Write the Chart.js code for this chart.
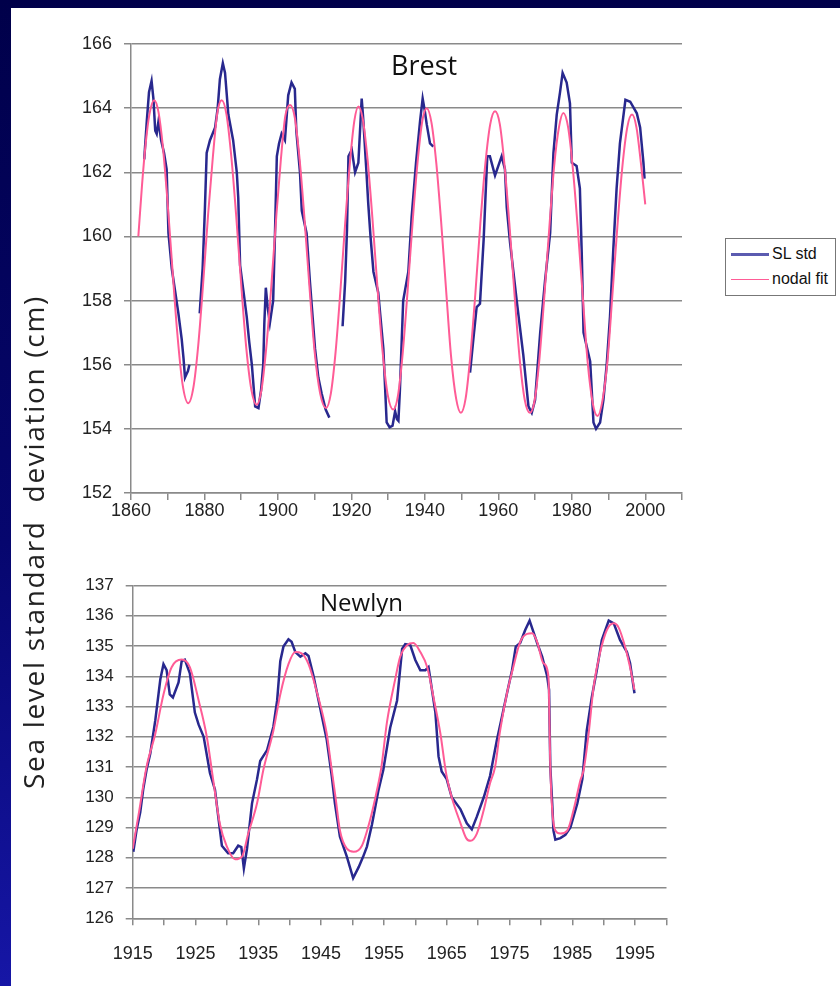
<!DOCTYPE html>
<html>
<head>
<meta charset="utf-8">
<script src="https://cdn.jsdelivr.net/npm/chart.js@4.4.1/dist/chart.umd.min.js"></script>
<style>
  html, body { margin: 0; padding: 0; }
  body {
    width: 840px; height: 986px; position: relative; overflow: hidden;
    background: linear-gradient(to bottom, #00004a 0%, #06066e 55%, #1616a6 100%);
  }
  #panel { position: absolute; left: 11px; top: 8px; right: 0; bottom: 0; background: #fff; }
  #topWrap { position: absolute; left: 0; top: 0; width: 840px; height: 540px; }
  #botWrap { position: absolute; left: 0; top: 545px; width: 840px; height: 441px; }
  .station {
    position: absolute; font-family: 'Open Sans', 'Noto Sans', sans-serif;
    font-size: 24px; color: #111; line-height: 1;
  }
  #yTitle {
    position: absolute; left: 33px; top: 542px; width: 600px;
    transform: translate(-50%, -50%) rotate(-90deg);
    text-align: center; white-space: pre; line-height: 1;
    font-family: 'Open Sans', 'Noto Sans', sans-serif; font-size: 28px; color: #222;
    letter-spacing: 1.7px;
  }
  #legend {
    position: absolute; left: 725px; top: 238px; width: 109px; height: 56px;
    border: 1.5px solid #777; background: #fff;
    font-family: 'Liberation Sans', Arial, sans-serif; font-size: 16px; color: #111;
  }
  #legend .row { position: absolute; left: 5px; height: 20px; line-height: 20px; white-space: nowrap; }
  #legend .swatch { display: inline-block; width: 38px; vertical-align: middle; margin-right: 3px; }
</style>
</head>
<body>
<div id="panel"></div>
<div id="topWrap"><canvas id="brestChart" width="840" height="540"></canvas></div>
<div id="botWrap"><canvas id="newlynChart" width="840" height="441"></canvas></div>
<div class="station" style="left:391px; top:51px; font-size:27px;">Brest</div>
<div class="station" style="left:320px; top:590px;">Newlyn</div>
<div id="yTitle">Sea level standard  deviation (cm)</div>
<div id="legend">
  <div class="row" style="top:5px;"><span class="swatch" style="border-top:3px solid #5b5bb0;"></span>SL std</div>
  <div class="row" style="top:30px;"><span class="swatch" style="border-top:1.5px solid #ff5c96;"></span>nodal fit</div>
</div>
<script>
// Brest: observed SL std (null = missing years)
const brestYears = [1863.6, 1864.3, 1864.9, 1865.6, 1866.1, 1866.6, 1867.0, 1867.5, 1868.2, 1869.0,
  1869.7, 1870.2, 1871.1, 1872.0, 1872.9, 1873.8, 1874.3, 1874.7, 1875.1, 1875.5, 1875.9, 1877.3,
  1878.7, 1879.5, 1880.1, 1880.6, 1881.5, 1882.9, 1883.6, 1884.2, 1885.0, 1885.6, 1886.5, 1887.8,
  1888.8, 1889.2, 1889.7, 1890.6, 1891.5, 1892.2, 1892.9, 1893.8, 1894.7, 1895.4, 1896.0, 1896.3,
  1896.7, 1897.2, 1897.8, 1898.7, 1899.2, 1899.7, 1900.3, 1901.0, 1901.9, 1902.8, 1903.7, 1904.6,
  1905.0, 1906.0, 1906.5, 1907.8, 1908.7, 1910.1, 1911.0, 1911.9, 1913.0, 1914.0, 1916.0,
  1917.6, 1918.3, 1918.8, 1919.2, 1920.1, 1921.0, 1921.9, 1922.8, 1923.2, 1924.1, 1924.6, 1925.2,
  1926.0, 1927.3, 1928.7, 1929.6, 1930.4, 1931.2, 1931.9, 1932.4, 1932.8, 1933.2, 1934.1, 1935.5,
  1936.4, 1937.6, 1938.7, 1939.4, 1940.0, 1940.5, 1941.4, 1942.3, 1947.0,
  1952.3, 1953.2, 1954.1, 1955.0, 1956.0, 1956.6, 1957.0, 1957.7, 1958.4, 1959.1, 1960.0, 1960.9,
  1961.8, 1962.3, 1963.2, 1965.0, 1966.8, 1968.2, 1969.1, 1970.0, 1971.4, 1972.7, 1974.1, 1975.0,
  1975.9, 1976.8, 1977.5, 1978.6, 1979.5, 1980.0, 1981.3, 1982.2, 1982.7, 1983.2, 1984.2, 1985.0,
  1985.9, 1986.6, 1987.7, 1988.6, 1989.5, 1990.4, 1991.3, 1992.2, 1993.1, 1994.6, 1995.9, 1997.7,
  1998.6, 1999.5, 1999.8];
const brestStd = [162.4, 163.6, 164.5, 164.85, 164.3, 163.3, 163.2, 163.6, 163.0, 162.6,
  162.1, 160.1, 159.0, 158.3, 157.6, 156.8, 156.2, 155.6, 155.7, 155.8, 156.0, null,
  157.6, 159.0, 160.8, 162.6, 163.0, 163.4, 164.0, 164.9, 165.4, 165.1, 163.8, 163.0,
  162.0, 161.2, 159.1, 158.3, 157.5, 156.7, 156.0, 154.7, 154.65, 155.2, 156.0, 157.3,
  158.4, 157.8, 157.3, 158.0, 160.1, 162.5, 162.9, 163.2, 163.0, 164.4, 164.8, 164.6,
  163.3, 162.0, 160.8, 160.1, 158.6, 156.5, 155.6, 155.1, 154.6, 154.35, null,
  157.2, 158.6, 160.2, 162.5, 162.7, 162.0, 162.3, 164.3, 163.7, 162.0, 161.0, 160.0,
  158.9, 158.25, 156.5, 154.2, 154.05, 154.1, 154.55, 154.3, 154.25, 155.2, 158.0, 158.9,
  160.6, 162.3, 163.6, 164.3, 163.9, 163.5, 162.9, 162.8, null,
  155.75, 156.8, 157.8, 157.9, 159.9, 161.5, 162.5, 162.5, 162.2, 161.9, 162.2, 162.5,
  162.1, 160.9, 159.8, 158.0, 156.3, 154.7, 154.5, 154.9, 157.0, 158.6, 160.1, 162.6,
  163.8, 164.5, 165.1, 164.8, 164.15, 162.3, 162.2, 161.5, 159.5, 157.0, 156.5, 156.1,
  154.2, 154.0, 154.2, 154.9, 156.0, 157.5, 159.6, 161.5, 162.9, 164.26, 164.2, 163.84,
  163.4, 162.3, 161.8];

// Brest: nodal fit
const brestFitYears = [1862.0, 1863.0, 1864.0, 1865.0, 1866.3, 1867.5, 1868.7, 1870.0, 1871.3, 1872.6,
  1874.0, 1875.6, 1877.0, 1878.3, 1879.6, 1881.0, 1882.3, 1883.5, 1884.7, 1886.0, 1887.3, 1888.6,
  1890.0, 1891.4, 1892.8, 1894.2, 1895.5, 1896.8, 1898.2, 1899.6, 1900.8, 1902.0, 1903.3, 1904.6,
  1905.9, 1907.2, 1908.6, 1910.0, 1911.5, 1913.1, 1914.4, 1915.7, 1917.0, 1918.3, 1919.6, 1920.8,
  1921.9, 1923.1, 1924.4, 1925.7, 1927.1, 1928.5, 1929.9, 1931.4, 1932.7, 1934.0, 1935.3, 1936.7,
  1938.0, 1939.3, 1940.5, 1941.8, 1943.1, 1944.4, 1945.8, 1947.1, 1948.5, 1949.8, 1951.1, 1952.4,
  1953.8, 1955.1, 1956.5, 1957.8, 1959.1, 1960.4, 1961.7, 1963.0, 1964.4, 1965.8, 1967.2, 1968.6,
  1969.9, 1971.2, 1972.5, 1973.9, 1975.2, 1976.5, 1977.7, 1979.0, 1980.3, 1981.6, 1983.0, 1984.3,
  1985.7, 1987.0, 1988.3, 1989.7, 1991.0, 1992.4, 1993.7, 1995.1, 1996.4, 1997.6, 1998.8, 2000.0];
const brestFit = [160.0, 161.6, 162.9, 163.8, 164.25, 163.87, 162.77, 161.0, 158.94, 156.99,
  155.42, 154.8, 155.3, 156.6, 158.47, 160.7, 162.5, 163.85, 164.25, 163.8, 162.5, 160.7,
  158.5, 156.5, 155.2, 154.75, 155.2, 156.5, 158.45, 160.7, 162.4, 163.75, 164.1, 163.7,
  162.4, 160.6, 158.4, 156.4, 155.1, 154.65, 155.1, 156.4, 158.3, 160.4, 162.3, 163.6,
  164.05, 163.65, 162.4, 160.6, 158.4, 156.4, 155.05, 154.6, 155.05, 156.4, 158.3, 160.5,
  162.3, 163.6, 164.0, 163.55, 162.3, 160.5, 158.3, 156.3, 154.95, 154.5, 154.95, 156.3,
  158.3, 160.4, 162.3, 163.5, 163.9, 163.5, 162.2, 160.4, 158.2, 156.2, 154.9, 154.5,
  154.9, 156.2, 158.1, 160.3, 162.2, 163.4, 163.85, 163.4, 162.1, 160.3, 158.1, 156.1,
  154.8, 154.4, 154.85, 156.1, 158.1, 160.3, 162.1, 163.4, 163.8, 163.4, 162.3, 161.0];

// Newlyn: observed SL std
const newlynYears = [1915.1, 1915.6, 1916.2, 1916.7, 1917.2, 1917.8, 1918.6, 1919.4, 1919.9, 1920.4,
  1920.9, 1921.4, 1922.3, 1922.8, 1923.3, 1924.1, 1924.9, 1925.5, 1926.3, 1927.3, 1928.1, 1928.6,
  1929.2, 1930.2, 1931.0, 1931.8, 1932.3, 1932.7, 1933.2, 1934.0, 1934.8, 1935.3, 1936.4, 1937.4,
  1938.0, 1938.5, 1939.0, 1939.8, 1940.3, 1940.9, 1941.7, 1942.5, 1943.0, 1943.8, 1944.8, 1945.9,
  1946.7, 1947.2, 1948.0, 1949.1, 1950.1, 1951.0, 1951.7, 1952.3, 1953.1, 1954.1, 1954.9, 1956.0,
  1957.1, 1957.9, 1958.4, 1959.2, 1960.0, 1960.8, 1961.6, 1962.1, 1962.4, 1963.2, 1963.7, 1964.2,
  1965.0, 1965.8, 1967.2, 1968.2, 1969.0, 1969.8, 1970.9, 1971.9, 1973.0, 1973.8, 1974.6, 1975.4,
  1976.0, 1976.7, 1977.5, 1978.2, 1978.7, 1979.4, 1980.2, 1981.0, 1981.3, 1981.5, 1981.8, 1982.0,
  1982.3, 1983.1, 1983.9, 1984.7, 1985.8, 1986.6, 1987.3, 1988.1, 1988.9, 1989.7, 1990.8, 1991.6,
  1992.6, 1993.7, 1994.2, 1994.9];
const newlynStd = [128.2, 128.9, 129.5, 130.3, 130.9, 131.45, 132.55, 133.9, 134.4, 134.2,
  133.4, 133.3, 133.8, 134.5, 134.55, 134.1, 132.8, 132.4, 132.0, 130.8, 130.25, 129.4,
  128.4, 128.15, 128.15, 128.4, 128.35, 127.65, 128.3, 129.8, 130.6, 131.2, 131.56, 132.33,
  133.2, 134.5, 134.98, 135.22, 135.14, 134.8, 134.65, 134.76, 134.67, 134.0, 133.0, 131.9,
  130.7, 129.8, 128.7, 128.04, 127.33, 127.7, 128.04, 128.37, 129.1, 130.2, 130.9, 132.3,
  133.2, 134.9, 135.06, 135.03, 134.54, 134.2, 134.2, 134.3, 133.9, 132.8, 131.35, 130.85,
  130.6, 130.0, 129.6, 129.14, 128.94, 129.36, 130.0, 130.7, 131.9, 132.66, 133.44, 134.2,
  134.98, 135.1, 135.53, 135.84, 135.53, 135.1, 134.65, 134.0, 133.55, 131.0, 129.8, 128.9,
  128.6, 128.65, 128.76, 129.0, 129.8, 130.6, 132.2, 133.3, 134.2, 135.2, 135.84, 135.75,
  135.2, 134.8, 134.43, 133.44];

// Newlyn: nodal fit
const newlynFitYears = [1915.0, 1916.0, 1917.2, 1918.6, 1919.9, 1921.2, 1922.8, 1924.1, 1925.5, 1926.8,
  1927.8, 1928.9, 1930.0, 1931.3, 1932.4, 1933.4, 1934.8, 1935.8, 1937.4, 1938.5, 1939.8, 1940.9,
  1941.9, 1943.0, 1944.3, 1945.9, 1946.5, 1947.3, 1948.0, 1949.1, 1950.2, 1951.5, 1952.8, 1953.9,
  1954.6, 1955.5, 1956.8, 1957.6, 1958.7, 1959.7, 1960.8, 1961.9, 1962.9, 1964.0, 1964.9, 1965.8,
  1967.2, 1968.1, 1968.8, 1969.8, 1970.9, 1971.9, 1972.7, 1973.5, 1974.6, 1975.6, 1976.7, 1977.8,
  1978.6, 1979.4, 1980.4, 1981.2, 1981.5, 1981.8, 1982.3, 1983.1, 1984.2, 1985.2, 1986.3, 1986.8,
  1987.6, 1988.4, 1989.4, 1990.5, 1991.6, 1992.4, 1993.4, 1994.2, 1994.9];
const newlynFit = [128.3, 129.5, 131.0, 132.1, 133.4, 134.3, 134.55, 134.3, 133.2, 132.0,
  130.6, 129.1, 128.37, 127.95, 128.04, 128.8, 129.8, 130.9, 132.2, 133.4, 134.4, 134.8,
  134.76, 134.4, 133.5, 132.1, 131.2, 130.0, 128.9, 128.3, 128.2, 128.4, 129.25, 130.24,
  131.0, 132.5, 133.9, 134.65, 135.03, 135.1, 134.8, 134.3, 133.3, 132.1, 130.8, 130.0,
  129.14, 128.65, 128.56, 128.8, 129.58, 130.46, 131.0, 132.2, 133.44, 134.3, 135.14, 135.4,
  135.42, 135.14, 134.43, 134.0, 131.0, 129.58, 128.9, 128.8, 128.9, 129.58, 130.57, 130.9,
  132.1, 133.66, 134.76, 135.53, 135.75, 135.6, 134.98, 134.3, 133.55];

const brestTicks = {min: 152, max: 166, step: 2};
const newlynTicks = {min: 126, max: 137, step: 1};
const brestXTicks = {min: 1860, max: 2010, step: 10, labelEvery: 20};
const newlynXTicks = {min: 1915, max: 2000, step: 5, labelEvery: 10};

const stdColor = '#28288e';
const fitColor = '#ff5c96';
const gridColor = '#8a8a8a';
const tickFont = {family: "'Liberation Sans', Arial, sans-serif", size: 17};

function pairs(xs, ys) {
  return xs.map((x, i) => ({x: x, y: ys[i]}));
}

function makeChart(id, obs, fit, yt, xt, box) {
  const ctx = document.getElementById(id).getContext('2d');
  return new Chart(ctx, {
    type: 'line',
    data: {
      datasets: [
        {label: 'SL std', data: obs, borderColor: stdColor, borderWidth: 2.5,
         pointRadius: 0, tension: 0, spanGaps: false, order: 2},
        {label: 'nodal fit', data: fit, borderColor: fitColor, borderWidth: 2,
         pointRadius: 0, cubicInterpolationMode: 'monotone', order: 1}
      ]
    },
    options: {
      responsive: false,
      animation: false,
      layout: {padding: {left: 0, right: box.right, top: box.top, bottom: 0}},
      plugins: {legend: {display: false}, tooltip: {enabled: false}},
      scales: {
        x: {
          type: 'linear', min: xt.min, max: xt.max,
          afterFit: s => { s.height = box.xHeight; },
          afterBuildTicks: s => {
            s.ticks = [];
            for (let v = xt.min; v <= xt.max; v += xt.step) s.ticks.push({value: v});
          },
          border: {color: gridColor, width: 1.5},
          grid: {drawOnChartArea: false, color: gridColor, tickLength: 7, lineWidth: 1.5},
          ticks: {
            autoSkip: false, maxRotation: 0, color: '#222', font: {...tickFont, size: box.xFont},
            padding: box.xPad,
            callback: v => ((v - xt.min) % xt.labelEvery === 0 ? String(v) : '')
          }
        },
        y: {
          min: yt.min, max: yt.max,
          afterFit: s => { s.width = box.left; },
          border: {color: gridColor, width: 1.5},
          grid: {color: gridColor, lineWidth: 1.5, tickLength: 7},
          ticks: {stepSize: yt.step, color: '#222', font: {...tickFont, size: box.yFont}, padding: box.yPad}
        }
      }
    }
  });
}

makeChart('brestChart', pairs(brestYears, brestStd), pairs(brestFitYears, brestFit),
  brestTicks, brestXTicks,
  {left: 131, right: 158, top: 44, xHeight: 47, xFont: 18, yFont: 18, xPad: 0, yPad: 12});
makeChart('newlynChart', pairs(newlynYears, newlynStd), pairs(newlynFitYears, newlynFit),
  newlynTicks, newlynXTicks,
  {left: 132.7, right: 173.5, top: 40.5, xHeight: 67.7, xFont: 18, yFont: 17, xPad: 18, yPad: 12});
</script>
</body>
</html>
